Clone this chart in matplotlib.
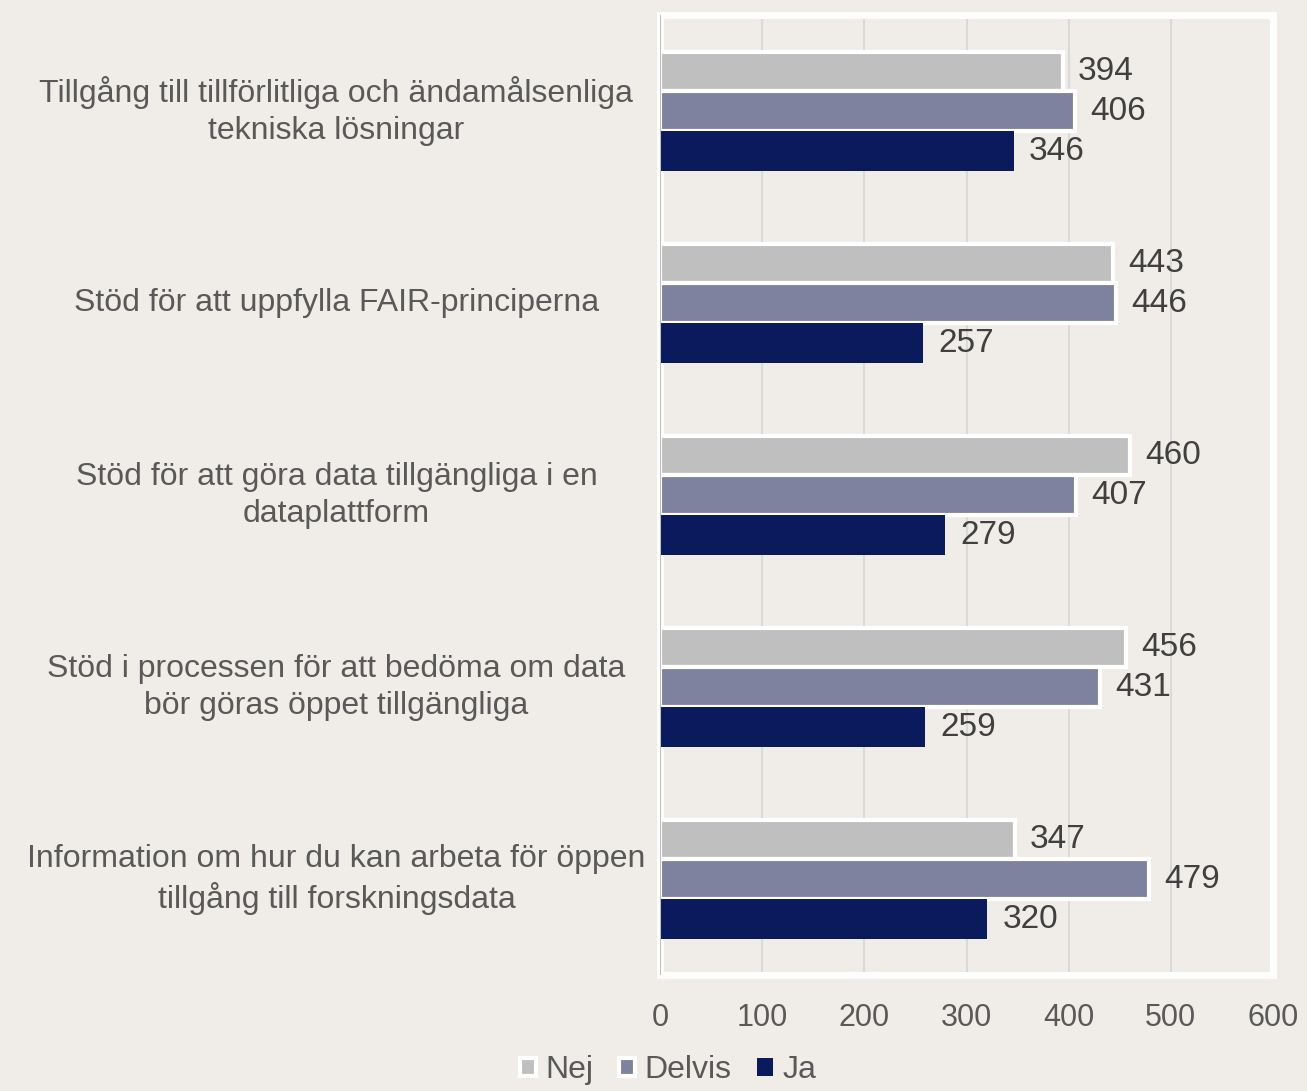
import numpy as np
import matplotlib.pyplot as plt

plt.rcParams['font.family'] = ['Liberation Sans', 'DejaVu Sans']

# data
categories = [
    "Tillgång till tillförlitliga och ändamålsenliga\ntekniska lösningar",
    "Stöd för att uppfylla FAIR-principerna",
    "Stöd för att göra data tillgängliga i en\ndataplattform",
    "Stöd i processen för att bedöma om data\nbör göras öppet tillgängliga",
    "Information om hur du kan arbeta för öppen\ntillgång till forskningsdata",
]
nej = [394, 443, 460, 456, 347]
delvis = [406, 446, 407, 431, 479]
ja = [346, 257, 279, 259, 320]
series_names = ["Nej", "Delvis", "Ja"]

bg = "#F0EDE8"
colors = ["#BFBFBF", "#7F829E", "#0B1A5C"]
edges = ["white", "white", "none"]
txt = "#595959"

fig = plt.figure(figsize=(13.07, 10.91), dpi=100, facecolor=bg)
ax = fig.add_axes([0.505, 0.106, 0.469, 0.880])
ax.set_facecolor(bg)

y = np.arange(len(categories))
h = 0.207
for i, (vals, name) in enumerate(zip([nej, delvis, ja], series_names)):
    off = (i - 1) * h
    ax.barh(y + off, vals, height=h, color=colors[i], edgecolor=edges[i],
            linewidth=3 if edges[i] != "none" else 0, label=name, zorder=3)
    for yy, v in zip(y + off, vals):
        ax.text(v + 15, yy, str(v), va="center", ha="left",
                fontsize=24, color="#404040", zorder=4)

ax.set_xlim(0, 600)
ax.set_ylim(4.5, -0.5)
ax.set_xticks(range(0, 601, 100))
ax.set_yticks(y)
ax.set_yticklabels(categories, fontsize=23, color=txt, ha="center",
                   va="center", linespacing=1.3)
ax.tick_params(axis="y", length=0, pad=233)
ax.tick_params(axis="x", length=0, pad=20, labelsize=22, labelcolor=txt)
ax.grid(axis="x", color="#D9D9D9", linewidth=1.5, zorder=0)
for s in ax.spines.values():
    s.set_color("white")
    s.set_linewidth(5)
ax.axvline(0, color="#BFBFBF", linewidth=1.5, zorder=5)

leg = fig.legend(loc="lower center", bbox_to_anchor=(0.511, -0.021), ncol=3,
                 frameon=False, fontsize=23, handlelength=0.5, handleheight=0.5,
                 handletextpad=0.3, columnspacing=0.8)
for t in leg.get_texts():
    t.set_color(txt)

fig.savefig("out.png", dpi=100, facecolor=bg)
